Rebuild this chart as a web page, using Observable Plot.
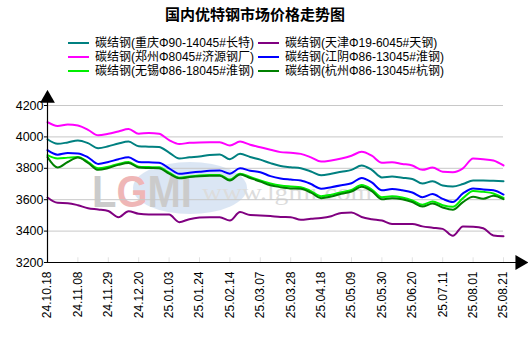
<!DOCTYPE html>
<html>
<head>
<meta charset="utf-8">
<script src="https://cdn.jsdelivr.net/npm/d3@7"></script>
<script src="https://cdn.jsdelivr.net/npm/@observablehq/plot@0.6"></script>
<style>
  body { margin: 0; background: #fff; }
  #wrap { position: relative; width: 528px; height: 340px; font-family: "Liberation Sans", Arial, "Noto Sans CJK SC", sans-serif; }
  #head { position: relative; width: 528px; height: 90px; }
  #title { position: absolute; left: 0; width: 510px; top: 3px; text-align: center; font-size: 15px; font-weight: bold; font-family: "Noto Sans CJK SC", sans-serif; color: #000; }
  .leg { position: absolute; font-size: 12px; line-height: 14px; white-space: nowrap; color: #000; font-family: "Liberation Sans", Arial, "Noto Sans CJK SC", sans-serif; }
  .sw { display: inline-block; width: 21px; height: 2.5px; vertical-align: middle; margin-right: 6px; position: relative; top: -1px; }
  #chart { position: absolute; left: 0; top: 90px; }
</style>
</head>
<body>
<div id="wrap">
  <div id="head">
    <div id="title">国内优特钢市场价格走势图</div>
  </div>
  <div id="chart"></div>
</div>
<script>
const tickLabels = ["24.10.18","24.11.08","24.11.29","24.12.20","25.01.03","25.01.24","25.02.14","25.03.07","25.03.28","25.04.18","25.05.09","25.05.30","25.06.20","25.07.11","25.08.01","25.08.21"];

const seriesNames = [
  "碳结钢(重庆Φ90-14045#长特)",
  "碳结钢(天津Φ19-6045#天钢)",
  "碳结钢(郑州Φ8045#济源钢厂)",
  "碳结钢(江阴Φ86-13045#淮钢)",
  "碳结钢(无锡Φ86-18045#淮钢)",
  "碳结钢(杭州Φ86-13045#杭钢)"
];
const seriesColors = ["#008080", "#800080", "#ff00ff", "#0000ff", "#00ee00", "#008000"];

const chongqing = [3985,3956,3965,3977,3960,3928,3940,3958,3970,3940,3938,3936,3900,3862,3870,3875,3885,3888,3858,3892,3872,3855,3833,3815,3807,3800,3780,3756,3765,3778,3790,3818,3790,3742,3748,3740,3732,3703,3718,3690,3684,3700,3722,3722,3720,3718];
const tianjin = [3614,3580,3578,3565,3545,3538,3528,3489,3527,3510,3506,3506,3505,3457,3476,3486,3489,3488,3467,3521,3502,3500,3496,3490,3489,3472,3478,3483,3495,3516,3518,3490,3476,3467,3446,3446,3446,3430,3422,3414,3370,3430,3428,3418,3372,3367];
const zhengzhou = [4094,4070,4079,4072,4045,4010,4020,4035,4050,4020,4025,4020,3980,3955,3962,3965,3966,3966,3945,3970,3950,3934,3918,3903,3899,3892,3870,3843,3850,3862,3880,3905,3880,3835,3839,3828,3818,3790,3805,3778,3775,3800,3862,3858,3850,3818];
const jiangyin = [3916,3887,3898,3895,3870,3828,3840,3858,3870,3840,3838,3836,3800,3765,3772,3778,3784,3786,3766,3800,3785,3775,3750,3735,3728,3722,3700,3670,3680,3692,3705,3738,3710,3660,3668,3660,3646,3616,3636,3605,3585,3640,3672,3665,3660,3633];
const wuxi = [3884,3863,3868,3872,3840,3800,3810,3828,3840,3810,3808,3806,3772,3740,3748,3754,3757,3758,3728,3765,3745,3722,3703,3690,3684,3680,3655,3622,3632,3648,3662,3693,3665,3616,3622,3614,3596,3568,3588,3565,3555,3610,3656,3650,3640,3612];
const hangzhou = [3871,3805,3840,3868,3835,3790,3802,3822,3834,3805,3802,3800,3766,3736,3744,3750,3752,3752,3722,3760,3738,3716,3692,3680,3672,3670,3645,3610,3620,3638,3652,3682,3655,3603,3610,3603,3585,3556,3576,3550,3536,3585,3618,3606,3625,3603];

const seriesValues = [chongqing, tianjin, zhengzhou, jiangyin, wuxi, hangzhou];
const yTicks = [3200, 3400, 3600, 3800, 4000, 4200];

// legend
const head = document.getElementById("head");
const legPos = [[68,36],[258,36],[68,50],[258,50],[68,64],[258,64]];
seriesNames.forEach((n, i) => {
  const d = document.createElement("div");
  d.className = "leg";
  d.style.left = legPos[i][0] + "px";
  d.style.top = legPos[i][1] + "px";
  d.innerHTML = `<span class="sw" style="background:${seriesColors[i]}"></span>${n}`;
  head.appendChild(d);
});

const data = seriesNames.flatMap((name, s) => seriesValues[s].map((v, i) => ({name, i, v})));
const tickIdx = tickLabels.map((_, k) => k * 3);

const chart = Plot.plot({
  width: 528,
  height: 250,
  marginLeft: 47,
  marginRight: 25,
  marginTop: 15,
  marginBottom: 78,
  style: {fontFamily: "'Liberation Sans', Arial, sans-serif", background: "transparent"},
  x: {domain: [0, 45]},
  y: {domain: [3200, 4200]},
  color: {domain: seriesNames, range: seriesColors},
  marks: [
    Plot.gridY(yTicks.slice(1), {stroke: "#c8c8c8", strokeOpacity: 1, strokeWidth: 1}),
    Plot.ruleX(tickIdx.slice(1), {y1: 3200, y2: 3230, stroke: "#e2e2e2"}),
    Plot.lineY(data, {x: "i", y: "v", z: "name", stroke: "name", strokeWidth: 2, curve: "monotone-x"}),
    Plot.ruleY([3200], {x1: 0, x2: 46.3, stroke: "#000", strokeWidth: 1.2, clip: false}),
    Plot.ruleX([0], {y1: 3200, y2: 4265, stroke: "#000", strokeWidth: 1.2, clip: false}),
    Plot.dot([{x: 0, y: 4245}], {x: "x", y: "y", symbol: "triangle", r: 5.5, fill: "#000", stroke: null}),
    Plot.dot([{x: 46.6, y: 3200}], {x: "x", y: "y", symbol: "triangle", r: 5.5, fill: "#000", stroke: null, rotate: 90}),
    Plot.axisY({ticks: yTicks, tickFormat: d => String(d), tickSize: 3, tickPadding: 1, fontSize: 12.5, label: null, stroke: "#000"}),
    Plot.axisX({ticks: tickIdx, tickFormat: i => tickLabels[i / 3], tickSize: 0, tickPadding: 9, tickRotate: -90, fontSize: 12, label: null})
  ]
});
document.getElementById("chart").appendChild(chart);

// faint watermark (decoration)
const svg = d3.select(chart);
const wm = svg.insert("g", ":first-child").attr("opacity", 0.5);
wm.append("ellipse").attr("cx", 190).attr("cy", 98).attr("rx", 57).attr("ry", 26).attr("fill", "#b9cfea");
wm.append("text").attr("x", 142).attr("y", 117).attr("font-size", 44).attr("font-weight", "bold")
  .attr("textLength", 100).attr("lengthAdjust", "spacingAndGlyphs").attr("font-family", "'Liberation Sans', Arial")
  .html('<tspan fill="#999">L</tspan><tspan fill="#e07070">G</tspan><tspan fill="#999">MI</tspan>');
wm.append("text").attr("x", 287).attr("y", 110).attr("font-size", 24).attr("fill", "#bbb")
  .attr("textLength", 170).attr("lengthAdjust", "spacingAndGlyphs").attr("font-family", "'Liberation Serif', serif")
  .text("www.lgmi.com");
</script>
</body>
</html>
